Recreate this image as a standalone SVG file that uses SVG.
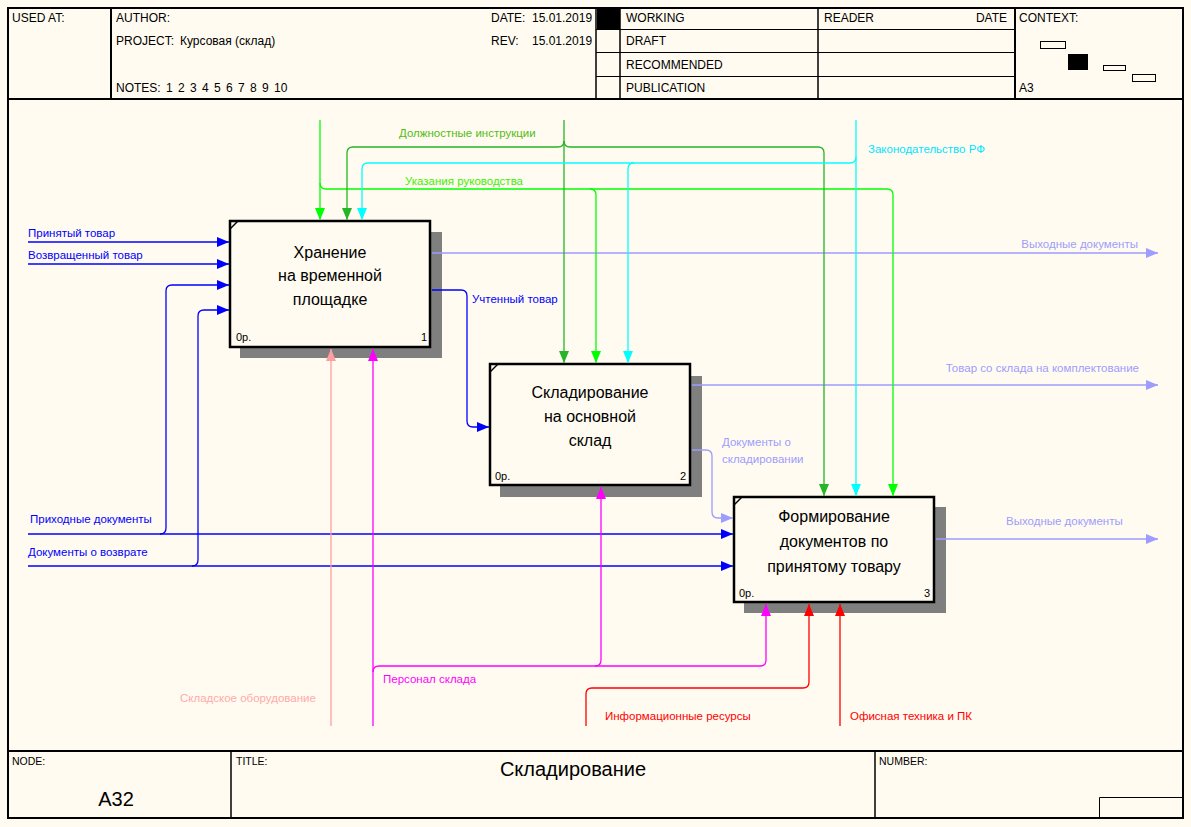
<svg xmlns="http://www.w3.org/2000/svg" width="1191" height="827" viewBox="0 0 1191 827">
<style>
text{font-family:"Liberation Sans",Arial,sans-serif}
.hd{font-size:12px;fill:#000}
.ft{font-size:10.5px;fill:#000}
.frame{fill:none;stroke:#000;stroke-width:2}
.thin{fill:none;stroke:#000;stroke-width:1}
.mid{fill:none;stroke:#000;stroke-width:1.5}
.box{fill:#fffbf0;stroke:#000;stroke-width:2.5}
.shd{fill:none;stroke:#000;stroke-width:1;stroke-dasharray:1 1}
.ttl{font-size:16px;fill:#000;text-anchor:middle}
.num{font-size:11px;fill:#000}
.lbl{font-size:11.5px}
.c{fill:none;stroke-width:1.3}
.blue{stroke:#0000ff}.purp{stroke:#9d9dff}.grn{stroke:#00ff00}.dgr{stroke:#26b526}.cyn{stroke:#00ffff}.mag{stroke:#ff00ff}.pnk{stroke:#ffa0a0}.red{stroke:#ff0000}
</style>
<defs>
<marker id="aBlue" viewBox="0 0 12 10" refX="12" refY="5" markerWidth="12" markerHeight="10" markerUnits="userSpaceOnUse" orient="auto"><path d="M0,0 L12,5 L0,10 z" fill="#0000ff"/></marker>
<marker id="aPurp" viewBox="0 0 12 10" refX="12" refY="5" markerWidth="12" markerHeight="10" markerUnits="userSpaceOnUse" orient="auto"><path d="M0,0 L12,5 L0,10 z" fill="#9d9dff"/></marker>
<marker id="aGrn" viewBox="0 0 12 10" refX="12" refY="5" markerWidth="12" markerHeight="10" markerUnits="userSpaceOnUse" orient="auto"><path d="M0,0 L12,5 L0,10 z" fill="#00ff00"/></marker>
<marker id="aDgr" viewBox="0 0 12 10" refX="12" refY="5" markerWidth="12" markerHeight="10" markerUnits="userSpaceOnUse" orient="auto"><path d="M0,0 L12,5 L0,10 z" fill="#26b526"/></marker>
<marker id="aCyn" viewBox="0 0 12 10" refX="12" refY="5" markerWidth="12" markerHeight="10" markerUnits="userSpaceOnUse" orient="auto"><path d="M0,0 L12,5 L0,10 z" fill="#00ffff"/></marker>
<marker id="aMag" viewBox="0 0 12 10" refX="12" refY="5" markerWidth="12" markerHeight="10" markerUnits="userSpaceOnUse" orient="auto"><path d="M0,0 L12,5 L0,10 z" fill="#ff00ff"/></marker>
<marker id="aPnk" viewBox="0 0 12 10" refX="12" refY="5" markerWidth="12" markerHeight="10" markerUnits="userSpaceOnUse" orient="auto"><path d="M0,0 L12,5 L0,10 z" fill="#ffa0a0"/></marker>
<marker id="aRed" viewBox="0 0 12 10" refX="12" refY="5" markerWidth="12" markerHeight="10" markerUnits="userSpaceOnUse" orient="auto"><path d="M0,0 L12,5 L0,10 z" fill="#ff0000"/></marker>
</defs>
<rect width="1191" height="827" fill="#fffbf0"/>

<g id="frame">
<rect class="frame" x="8" y="8" width="1175" height="810"/>
<line class="frame" x1="8" y1="99" x2="1183" y2="99"/>
<line class="frame" x1="8" y1="751" x2="1183" y2="751"/>
<line class="frame" x1="111" y1="8" x2="111" y2="99"/>
<line class="mid" x1="596" y1="8" x2="596" y2="99"/>
<rect x="597" y="8" width="23" height="21" fill="#000"/>
<line class="mid" x1="620" y1="8" x2="620" y2="99"/>
<line class="mid" x1="818" y1="8" x2="818" y2="99"/>
<line class="frame" x1="1015" y1="8" x2="1015" y2="99"/>
<line class="thin" x1="596" y1="29.5" x2="1015" y2="29.5"/>
<line class="thin" x1="596" y1="52.5" x2="1015" y2="52.5"/>
<line class="thin" x1="596" y1="76.5" x2="1015" y2="76.5"/>
<rect class="thin" x="1040.5" y="41.5" width="25" height="7"/>
<rect x="1068" y="54" width="20" height="16" fill="#000"/>
<rect class="thin" x="1103.5" y="65.5" width="22" height="5"/>
<rect class="thin" x="1132.5" y="74.5" width="23" height="7"/>
<text class="hd" x="12" y="22">USED AT:</text>
<text class="hd" x="116" y="22">AUTHOR:</text>
<text class="hd" x="116" y="45">PROJECT:</text>
<text class="hd" x="180" y="45">Курсовая (склад)</text>
<text class="hd" x="116" y="92">NOTES:</text>
<text class="hd" x="166 178 190 202 214 226 238 250 262 274 280.7" y="92">12345678910</text>
<text class="hd" x="491" y="22">DATE:</text>
<text class="hd" x="532" y="22">15.01.2019</text>
<text class="hd" x="491" y="45">REV:</text>
<text class="hd" x="532" y="45">15.01.2019</text>
<text class="hd" x="626" y="22">WORKING</text>
<text class="hd" x="626" y="45">DRAFT</text>
<text class="hd" x="626" y="69">RECOMMENDED</text>
<text class="hd" x="626" y="92">PUBLICATION</text>
<text class="hd" x="824" y="22">READER</text>
<text class="hd" x="1007" y="22" text-anchor="end">DATE</text>
<text class="hd" x="1019" y="22">CONTEXT:</text>
<text class="hd" x="1019" y="92">A3</text>
<line class="mid" x1="231" y1="751" x2="231" y2="818"/>
<line class="mid" x1="875" y1="751" x2="875" y2="818"/>
<polyline class="thin" points="1099.5,818 1099.5,797.5 1183,797.5"/>
<text class="ft" x="12" y="765">NODE:</text>
<text class="ft" x="236" y="765">TITLE:</text>
<text class="ft" x="879" y="765">NUMBER:</text>
<text x="116" y="806" font-size="20" text-anchor="middle">A32</text>
<text x="573" y="776" font-size="20" text-anchor="middle">Складирование</text>
</g>

<g id="node1">
<rect x="240" y="232" width="202" height="126" fill="#fff"/>
<rect x="240" y="232" width="202" height="126" fill="#000" opacity="0.5"/>
<rect class="box" x="230" y="221" width="200" height="126"/>
<line x1="230" y1="229" x2="238" y2="221" stroke="#000" stroke-width="1.5"/>
<text class="ttl" x="330" y="258">Хранение</text>
<text class="ttl" x="330" y="281">на временной</text>
<text class="ttl" x="330" y="305">площадке</text>
<text class="num" x="236" y="341">0р.</text>
<text class="num" x="427" y="341" text-anchor="end">1</text>
</g>

<g id="node2">
<rect x="500" y="376" width="202" height="121" fill="#fff"/>
<rect x="500" y="376" width="202" height="121" fill="#000" opacity="0.5"/>
<rect class="box" x="490" y="364" width="200" height="121"/>
<line x1="490" y1="372" x2="498" y2="364" stroke="#000" stroke-width="1.5"/>
<text class="ttl" x="590" y="398">Складирование</text>
<text class="ttl" x="590" y="422">на основной</text>
<text class="ttl" x="590" y="446">склад</text>
<text class="num" x="495" y="480">0р.</text>
<text class="num" x="686" y="480" text-anchor="end">2</text>
</g>

<g id="node3">
<rect x="744" y="507" width="202" height="106" fill="#fff"/>
<rect x="744" y="507" width="202" height="106" fill="#000" opacity="0.5"/>
<rect class="box" x="734" y="497" width="200" height="105"/>
<line x1="734" y1="505" x2="742" y2="497" stroke="#000" stroke-width="1.5"/>
<text class="ttl" x="834" y="522">Формирование</text>
<text class="ttl" x="834" y="547">документов по</text>
<text class="ttl" x="834" y="572">принятому товару</text>
<text class="num" x="739" y="597">0р.</text>
<text class="num" x="930" y="597" text-anchor="end">3</text>
</g>

<g id="connectors">
<!-- inputs -->
<path class="c blue" d="M28 242 H229" marker-end="url(#aBlue)"/>
<path class="c blue" d="M28 264 H229" marker-end="url(#aBlue)"/>
<path class="c blue" d="M28 534 H733" marker-end="url(#aBlue)"/>
<path class="c blue" d="M160 534 Q166 534 166 528 V291 Q166 285 172 285 H229" marker-end="url(#aBlue)"/>
<path class="c blue" d="M28 566 H733" marker-end="url(#aBlue)"/>
<path class="c blue" d="M192 566 Q198 566 198 560 V316 Q198 310 204 310 H229" marker-end="url(#aBlue)"/>
<path class="c blue" d="M432 290 H461 Q467 290 467 296 V421 Q467 427 473 427 H489" marker-end="url(#aBlue)"/>
<!-- outputs -->
<path class="c purp" d="M432 253 H1158" marker-end="url(#aPurp)"/>
<path class="c purp" d="M692 385 H1158" marker-end="url(#aPurp)"/>
<path class="c purp" d="M692 450 H706 Q712 450 712 456 V512 Q712 518 718 518 H733" marker-end="url(#aPurp)"/>
<path class="c purp" d="M936 539 H1158" marker-end="url(#aPurp)"/>
<!-- controls -->
<path class="c grn" d="M320 120 V220" marker-end="url(#aGrn)"/>
<path class="c grn" d="M320 183 Q320 189 326 189 H887 Q893 189 893 195 V496" marker-end="url(#aGrn)"/>
<path class="c grn" d="M590 189 Q596 189 596 195 V363" marker-end="url(#aGrn)"/>
<path class="c dgr" d="M564 120 V363" marker-end="url(#aDgr)"/>
<path class="c dgr" d="M564 141 Q564 147 558 147 H353 Q347 147 347 153 V220" marker-end="url(#aDgr)"/>
<path class="c dgr" d="M564 141 Q564 147 570 147 H818 Q824 147 824 153 V496" marker-end="url(#aDgr)"/>
<path class="c cyn" d="M856 120 V496" marker-end="url(#aCyn)"/>
<path class="c cyn" d="M856 157 Q856 163 850 163 H368 Q362 163 362 169 V220" marker-end="url(#aCyn)"/>
<path class="c cyn" d="M634 163 Q628 163 628 169 V363" marker-end="url(#aCyn)"/>
<!-- mechanisms -->
<path class="c pnk" d="M331 726 V349" marker-end="url(#aPnk)"/>
<path class="c mag" d="M373 726 V349" marker-end="url(#aMag)"/>
<path class="c mag" d="M373 672 Q373 666 379 666 H760 Q766 666 766 660 V604" marker-end="url(#aMag)"/>
<path class="c mag" d="M595 666 Q601 666 601 660 V487" marker-end="url(#aMag)"/>
<path class="c red" d="M586 726 V694 Q586 688 592 688 H803 Q809 688 809 682 V604" marker-end="url(#aRed)"/>
<path class="c red" d="M840 726 V604" marker-end="url(#aRed)"/>
<!-- labels -->
<text class="lbl" x="28" y="237" fill="#0000ff">Принятый товар</text>
<text class="lbl" x="28" y="259" fill="#0000ff">Возвращенный товар</text>
<text class="lbl" x="30" y="523" fill="#0000ff">Приходные документы</text>
<text class="lbl" x="28" y="556" fill="#0000ff">Документы о возврате</text>
<text class="lbl" x="472" y="303" fill="#0000ff">Учтенный товар</text>
<text class="lbl" x="1138" y="248" fill="#9d9dff" text-anchor="end">Выходные документы</text>
<text class="lbl" x="1139" y="372" fill="#9d9dff" text-anchor="end">Товар со склада на комплектование</text>
<text class="lbl" x="722" y="446" fill="#9d9dff">Документы о</text>
<text class="lbl" x="722" y="463" fill="#9d9dff">складировании</text>
<text class="lbl" x="1006" y="525" fill="#9d9dff">Выходные документы</text>
<text class="lbl" x="399" y="137" fill="#55bb11">Должностные инструкции</text>
<text class="lbl" x="405" y="185" fill="#44ee00">Указания руководства</text>
<text class="lbl" x="868" y="153" fill="#00e5ff">Законодательство РФ</text>
<text class="lbl" x="180" y="702" fill="#ffaaaa">Складское оборудование</text>
<text class="lbl" x="383" y="683" fill="#ff00ff">Персонал склада</text>
<text class="lbl" x="605" y="720" fill="#ff0000">Информационные ресурсы</text>
<text class="lbl" x="850" y="720" fill="#ff0000">Офисная техника и ПК</text>
</g>
</svg>
